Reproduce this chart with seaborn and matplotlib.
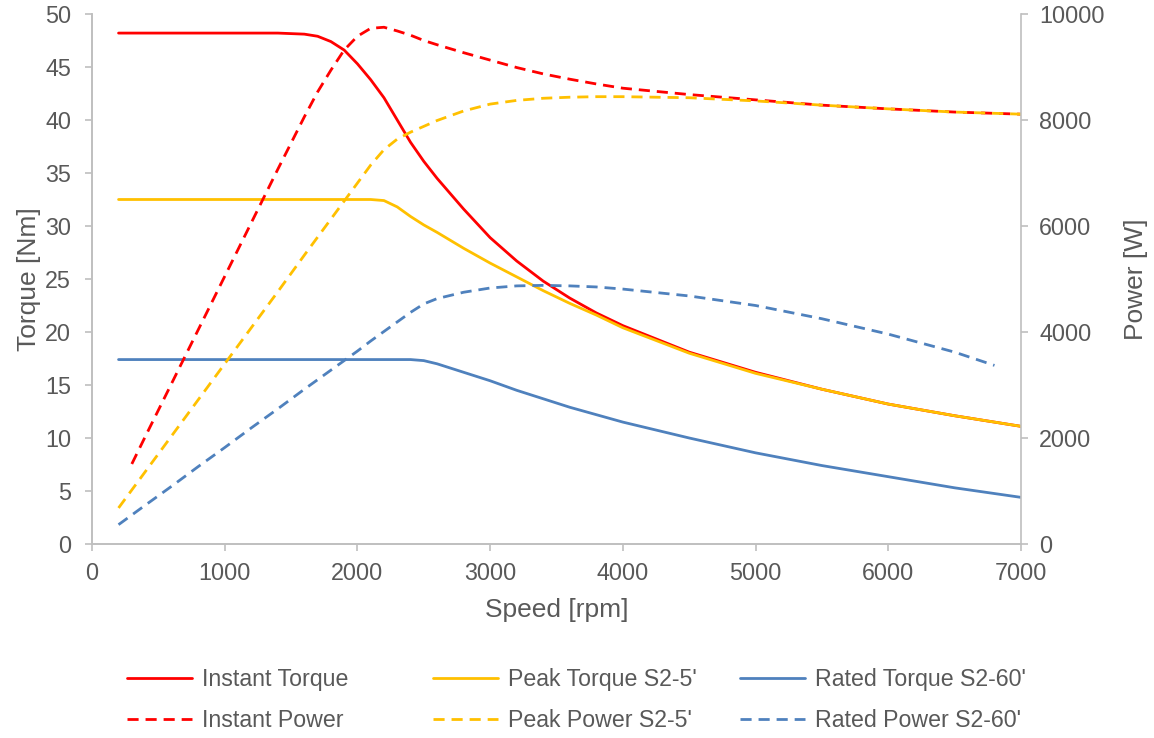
import numpy as np
import pandas as pd
import matplotlib
matplotlib.use("Agg")
import matplotlib.pyplot as plt
import seaborn as sns

# speed grid [rpm]
speed = [200, 400, 600, 800, 1000, 1200, 1400, 1600, 1700, 1800, 1900, 2000,
         2100, 2200, 2300, 2400, 2500, 2600, 2800, 3000, 3200, 3400, 3600,
         3800, 4000, 4500, 5000, 5500, 6000, 6500, 7000]

# torque [Nm]
instant_torque = [48.2, 48.2, 48.2, 48.2, 48.2, 48.2, 48.2, 48.1, 47.9, 47.4, 46.6, 45.3,
                  43.8, 42.1, 40.0, 37.9, 36.1, 34.5, 31.6, 28.9, 26.7, 24.8, 23.2,
                  21.8, 20.6, 18.1, 16.2, 14.6, 13.2, 12.1, 11.1]
peak_torque = [32.5, 32.5, 32.5, 32.5, 32.5, 32.5, 32.5, 32.5, 32.5, 32.5, 32.5, 32.5,
               32.5, 32.4, 31.8, 30.9, 30.1, 29.4, 27.9, 26.5, 25.2, 23.9, 22.7,
               21.6, 20.4, 18.0, 16.1, 14.6, 13.2, 12.1, 11.1]
rated_torque = [17.4, 17.4, 17.4, 17.4, 17.4, 17.4, 17.4, 17.4, 17.4, 17.4, 17.4, 17.4,
                17.4, 17.4, 17.4, 17.4, 17.3, 17.0, 16.2, 15.4, 14.5, 13.7, 12.9,
                12.2, 11.5, 10.0, 8.6, 7.4, 6.35, 5.3, 4.4]

# power [W]
instant_power_speed = [300] + speed[1:]
instant_power = [1510, 2020, 3030, 4040, 5050, 6060, 7070, 8060, 8530, 8940, 9320, 9580,
                 9730, 9750, 9680, 9600, 9500, 9420, 9270, 9130, 8990, 8870, 8770,
                 8680, 8600, 8480, 8380, 8280, 8210, 8150, 8110]
peak_power = [680, 1360, 2040, 2720, 3400, 4080, 4760, 5450, 5790, 6130, 6470, 6810,
              7150, 7440, 7640, 7770, 7880, 7990, 8170, 8300, 8370, 8410, 8430,
              8440, 8440, 8420, 8360, 8280, 8210, 8150, 8110]
rated_power_speed = speed[:-1] + [6800]
rated_power = [365, 730, 1090, 1460, 1820, 2190, 2550, 2920, 3100, 3280, 3460, 3640,
               3830, 4010, 4190, 4370, 4530, 4630, 4750, 4830, 4870, 4880, 4870,
               4850, 4810, 4680, 4500, 4250, 3960, 3620, 3370]

labels_torque = ["Instant Torque", "Peak Torque S2-5'", "Rated Torque S2-60'"]
labels_power = ["Instant Power", "Peak Power S2-5'", "Rated Power S2-60'"]
colors = ["#FF0000", "#FFC000", "#4F81BD"]

sns.set_theme(style="white")
plt.rcParams["font.family"] = ["Liberation Sans", "DejaVu Sans"]
grey = "#595959"
axis_grey = "#BFBFBF"

fig = plt.figure(figsize=(11.54, 7.38), dpi=100)
ax = fig.add_axes([92 / 1154, 1 - 544 / 738, (1021 - 92) / 1154, (544 - 14) / 738])
ax2 = ax.twinx()

dash = (0, (4, 2.5))
torque_series = [instant_torque, peak_torque, rated_torque]
power_series = [(instant_power_speed, instant_power), (speed, peak_power),
                (rated_power_speed, rated_power)]

handles = []
for i in range(3):
    sns.lineplot(x=speed, y=torque_series[i], ax=ax, color=colors[i], lw=2.0,
                 errorbar=None, legend=False, label=labels_torque[i])
    handles.append(ax.lines[-1])
for i in range(3):
    xs, ys = power_series[i]
    sns.lineplot(x=xs, y=ys, ax=ax2, color=colors[i], lw=2.0, linestyle=dash,
                 errorbar=None, legend=False, label=labels_power[i])
    handles.append(ax2.lines[-1])
for a in (ax, ax2):
    if a.get_legend() is not None:
        a.get_legend().remove()

ax.set_xlim(0, 7000)
ax.set_ylim(0, 50)
ax2.set_ylim(0, 10000)
ax.set_xticks(range(0, 7001, 1000))
ax.set_yticks(range(0, 51, 5))
ax2.set_yticks(range(0, 10001, 2000))

for a in (ax, ax2):
    for s in a.spines.values():
        s.set_color(axis_grey)
        s.set_linewidth(1.2)
    a.spines["top"].set_visible(False)
    a.tick_params(colors=axis_grey, labelcolor=grey, labelsize=16.8,
                  length=5, width=1.2, pad=8)
    a.grid(False)
ax.tick_params(axis="x", bottom=True, direction="out")
ax.tick_params(axis="y", left=True, right=False, direction="out", pad=10)
ax2.tick_params(axis="y", right=True, left=False, direction="out")
ax.spines["right"].set_visible(False)

ax.set_xlabel("Speed [rpm]", fontsize=19, color=grey, labelpad=9)
ax.set_ylabel("Torque [Nm]", fontsize=19, color=grey, labelpad=3)
ax2.set_ylabel("Power [W]", fontsize=19, color=grey, labelpad=14)

col_x = [127 / 1154, 433 / 1154, 740 / 1154]
for c in range(3):
    lg = fig.legend([handles[c], handles[c + 3]],
                    [labels_torque[c], labels_power[c]],
                    loc="center left", bbox_to_anchor=(col_x[c], 0.051),
                    frameon=False, fontsize=16.7, handlelength=2.8,
                    handletextpad=0.42, labelspacing=0.78, borderpad=0,
                    borderaxespad=0)
    for t in lg.get_texts():
        t.set_color(grey)

fig.savefig("out.png", dpi=100)
